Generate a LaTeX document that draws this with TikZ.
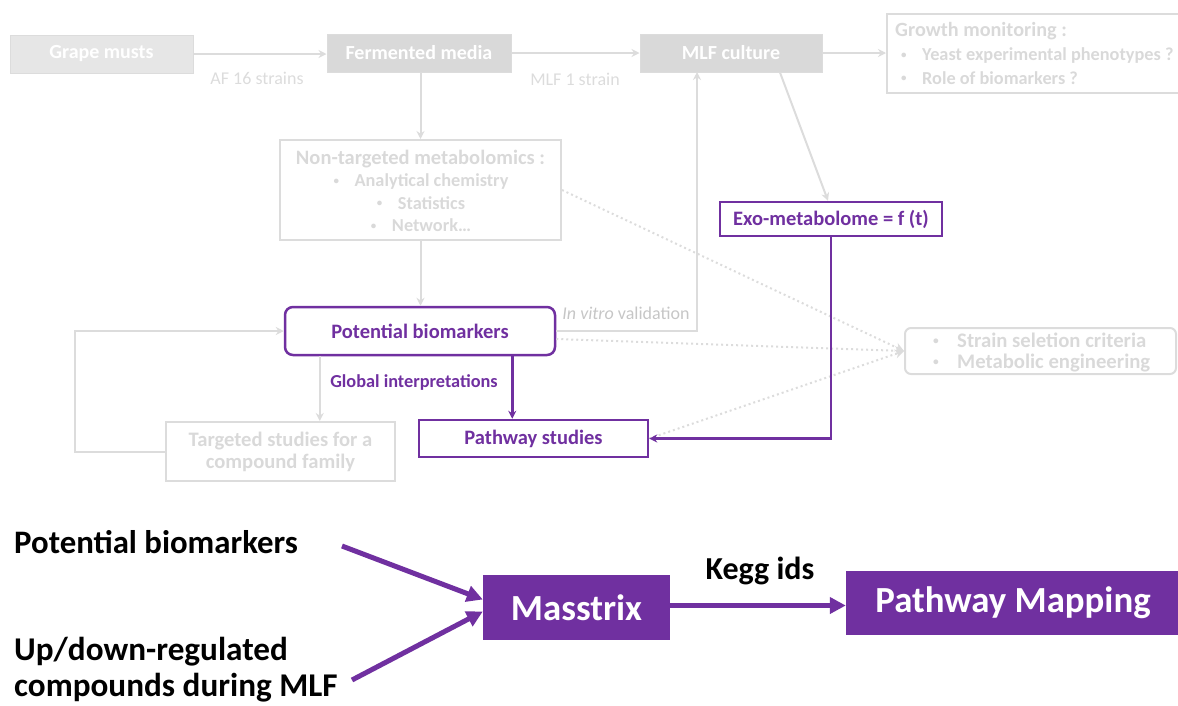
\documentclass[tikz,border=0pt]{standalone}
\usepackage{fontspec}
\setmainfont{Carlito}
\usetikzlibrary{arrows.meta,calc}
\definecolor{purp}{HTML}{7030A0}
\definecolor{fillA}{HTML}{E6E6E6}
\definecolor{fillB}{HTML}{D9D9D9}
\definecolor{lgray}{HTML}{DCDCDC}
\definecolor{tgray}{HTML}{D9D9D9}
\definecolor{vgray}{HTML}{C6C6C6}
\newcommand{\bul}{\makebox[22pt][l]{\hspace{1pt}\raisebox{0.3ex}{\scalebox{0.6}{•}}}}
\begin{document}
\begin{tikzpicture}[x=1pt,y=-1pt,
  solidbox/.style={draw=lgray, line width=1pt, fill=#1, text=white, font=\fontsize{20}{24}\selectfont\bfseries, inner sep=0pt},
  outlinebox/.style={draw=lgray, line width=2pt, inner sep=0pt},
  graytext/.style={text=tgray, font=\fontsize{18.3}{22.5}\selectfont\bfseries, inner sep=0pt},
  purplebox/.style={draw=purp, line width=2.5pt, fill=white, text=purp, font=\fontsize{20.5}{24}\selectfont\bfseries, inner sep=0pt},
  filledbox/.style={fill=purp, text=white, font=\fontsize{36.8}{42}\selectfont\bfseries, inner sep=0pt},
  garrow/.style={draw=lgray, line width=2pt, -{Stealth[length=8pt,width=8pt]}},
  dotarrow/.style={draw=lgray, line width=2pt, dash pattern=on 2pt off 3pt, -{Stealth[length=9pt,width=9pt]}},
  parrow/.style={draw=purp, line width=2.5pt, -{Stealth[length=8pt,width=8pt]}},
  bigarrow/.style={draw=purp, line width=5pt, -{Triangle[length=16pt,width=16pt]}},
  lbl/.style={text=lgray, font=\fontsize{18}{22}\selectfont, inner sep=0pt},
  bigtext/.style={text=black, font=\fontsize{32.8}{37}\selectfont\bfseries, inner sep=0pt},
]
\useasboundingbox (0,0) rectangle (1178,705);

% top row
\node[solidbox=fillA, minimum width=183pt, minimum height=38pt] (grape) at (101.5,54) {Grape musts};
\node[solidbox=fillB, minimum width=184pt, minimum height=38pt] (ferm) at (419,53) {Fermented media};
\node[solidbox=fillB, minimum width=182pt, minimum height=38pt] (mlf) at (731,53) {MLF culture};
\node[outlinebox, minimum width=293pt, minimum height=79pt] (growth) at (1033.5,53.5) {};
\node[graytext, anchor=west, font=\fontsize{20.2}{24}\selectfont\bfseries] (g1) at (895,31) {Growth monitoring :};
\node[graytext, anchor=west] (g2) at (900,56) {\bul Yeast experimental phenotypes ?};
\node[graytext, anchor=west] (g3) at (900,78) {\bul Role of biomarkers ?};

\draw[garrow] (grape.east) -- (grape.east -| ferm.west);
\node[lbl] (af) at (257,78) {AF 16 strains};
\draw[garrow] (ferm.east) -- (mlf.west);
\node[lbl] (mlfs) at (575,79) {MLF 1 strain};
\draw[garrow] (mlf.east) -- (mlf.east -| growth.west);

% non-targeted
\node[outlinebox, minimum width=281pt, minimum height=100pt] (nont) at (420.5,190) {};
\node[graytext, align=center] (ntxt) at (420.5,191) {{\fontsize{20.5}{22.5}\selectfont Non-targeted metabolomics :}\\\bul Analytical chemistry\\\bul Statistics\\\bul Network…};
\draw[garrow] (ferm.south -| nont.north) -- (nont.north);

% potential biomarkers
\node[purplebox, rounded corners=8pt, minimum width=270pt, minimum height=48pt] (pb) at (420,331) {Potential biomarkers};
\draw[garrow] (nont.south) -- (nont.south |- pb.north);

% exo
\node[purplebox, minimum width=222pt, minimum height=34pt] (exo) at (831,219) {Exo-metabolome = f (t)};
\coordinate (mlfout) at ($(mlf.south)+(49,0)$);
\coordinate (exoin) at ($(exo.north)+(-3,0)$);
\draw[garrow] (mlfout) -- (exoin);

% in vitro
\coordinate (vit) at (697,72);
\draw[garrow] (pb.east) -| (vit);
\node[text=vgray, font=\fontsize{18}{22}\selectfont, inner sep=0pt] (vitl) at (626,313) {\textit{In vitro} validation};

% strain box
\node[outlinebox, rounded corners=6pt, minimum width=271pt, minimum height=46pt] (strain) at (1040.5,351) {};
\node[graytext, anchor=west, font=\fontsize{20.7}{24}\selectfont\bfseries] (s1) at (933,340) {\makebox[24pt][l]{\raisebox{0.3ex}{\scalebox{0.55}{•}}}Strain seletion criteria};
\node[graytext, anchor=west, font=\fontsize{20.7}{24}\selectfont\bfseries] (s2) at (933,363) {\makebox[24pt][l]{\raisebox{0.3ex}{\scalebox{0.55}{•}}}Metabolic engineering};

% targeted
\node[outlinebox, minimum width=229pt, minimum height=59pt] (tgt) at (280.5,451.5) {};
\node[graytext, align=center, font=\fontsize{20.6}{22}\selectfont\bfseries] (ttxt) at (280.5,452) {Targeted studies for a\\compound family};
\coordinate (pbt) at ($(pb.south west)+(36,0)$);
\draw[garrow] (pbt) -- (pbt |- tgt.north);
\draw[garrow] (tgt.west) -- ++(-90,0) |- (pb.west);

% pathway studies
\node[purplebox, minimum width=229pt, minimum height=37pt] (pw) at (533.5,438.5) {Pathway studies};
\coordinate (pbp) at ($(pb.south east)+(-44,0)$);
\draw[parrow] (pbp) -- (pbp |- pw.north);
\node[text=purp, font=\fontsize{18.3}{22}\selectfont\bfseries, inner sep=0pt] (glob) at (414,382) {Global interpretations};

% dotted
\coordinate (pbd) at ($(pb.east)+(0,8)$);
\draw[dotarrow] (nont.east) -- (strain.west);
\draw[dotarrow] (pbd) -- (strain.west);
\draw[dotarrow] (pw.east) -- (strain.west);
\draw[parrow] (exo.south) |- (pw.east);

% bottom
\node[bigtext, anchor=west] (bpb) at (14,542) {Potential biomarkers};
\node[bigtext, anchor=west, align=left, font=\fontsize{33.2}{36}\selectfont\bfseries] (bud) at (14,670) {Up/down-regulated\\compounds during MLF};
\node[filledbox, minimum width=187pt, minimum height=65pt] (mass) at (576.5,607.5) {Masstrix};
\node[filledbox, minimum width=334pt, minimum height=64pt] (pm) at (1013,603) {Pathway Mapping};
\coordinate (a1) at (342,546);
\coordinate (a2) at (352,680);
\coordinate (m1) at ($(mass.west)+(0,-8)$);
\coordinate (m2) at ($(mass.west)+(0,4)$);
\draw[bigarrow] (a1) -- (m1);
\draw[bigarrow] (a2) -- (m2);
\coordinate (mo) at ($(mass.east)+(0,-2)$);
\draw[bigarrow] (mo) -- (mo -| pm.west);
\node[bigtext, font=\fontsize{32}{37}\selectfont\bfseries] (kegg) at (760,571) {Kegg ids};
\end{tikzpicture}
\end{document}
